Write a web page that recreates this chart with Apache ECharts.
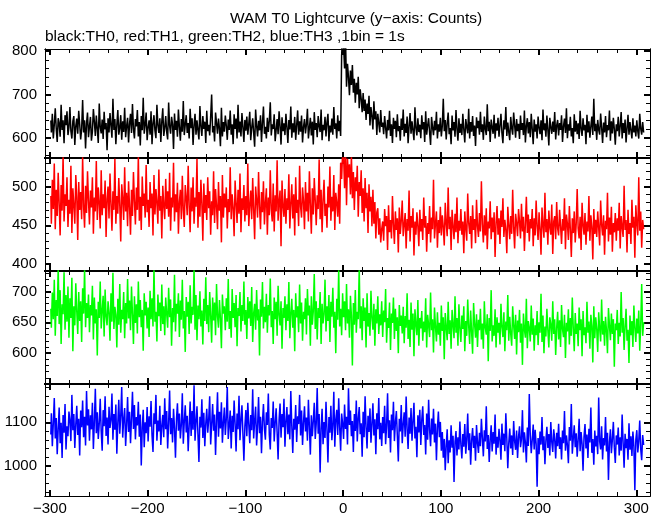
<!DOCTYPE html>
<html><head><meta charset="utf-8">
<script src="https://cdn.jsdelivr.net/npm/echarts@6/dist/echarts.min.js"></script>
<style>html,body{margin:0;padding:0;background:#fff}#c{width:661px;height:515px}</style>
</head><body><div id="c"></div>
<script>
// time of first bin (s), 1 bin = 1 s
const binStart = -299;
const titleText = 'WAM T0 Lightcurve (y\u2212axis: Counts)';
const subText = 'black:TH0, red:TH1, green:TH2, blue:TH3 ,1bin = 1s';
const seriesNames = ['TH0','TH1','TH2','TH3'];
const colors = ['#000000','#ff0000','#00ff00','#0000ff'];

const th0 = [
640,612,655,598,630,668,621,590,645,633,602,676,618,640,587,652,629,661,606,624,
671,615,598,638,650,583,627,644,609,662,631,596,620,687,612,640,575,633,658,601,
626,648,593,614,666,637,604,651,620,588,679,625,610,642,597,660,619,634,571,645,
612,657,628,600,690,618,643,585,630,664,607,622,652,595,638,613,669,601,627,646,
589,632,655,611,678,620,598,643,626,664,603,636,582,650,617,692,609,630,658,594,
624,640,607,661,585,633,652,616,599,676,628,611,645,590,637,668,604,622,650,613,
596,681,627,609,648,631,574,656,618,639,602,665,625,593,643,614,685,606,630,652,
611,634,598,667,622,645,583,629,655,607,640,617,596,673,626,604,650,620,637,588,
662,615,630,605,648,700,612,627,591,658,634,609,644,621,580,669,603,636,614,651,
628,595,642,618,663,607,631,585,654,620,644,598,676,612,637,603,657,625,590,641,
616,649,607,632,660,594,623,645,611,579,665,628,603,639,617,652,590,634,672,609,
625,598,646,613,639,682,605,631,620,654,592,618,643,608,661,627,584,647,615,633,
606,655,624,588,641,619,672,600,633,612,648,595,629,663,607,638,614,651,589,625,
643,610,631,667,598,622,646,605,637,584,659,618,634,601,650,626,613,665,594,630,
617,648,603,636,655,592,628,612,644,607,671,620,633,598,652,615,639,604,790,840,
812,760,826,718,771,740,698,755,722,768,704,736,681,727,700,741,668,712,690,659,
703,662,688,641,679,655,697,628,671,650,619,684,642,661,606,655,633,612,664,625,
635,608,650,623,598,641,617,662,604,631,588,646,620,639,601,654,615,627,593,644,
618,665,603,632,611,649,587,626,657,609,638,616,594,670,622,605,645,613,630,599,
652,619,636,590,661,607,628,645,612,583,648,624,606,639,617,660,598,631,614,646,
603,627,690,615,641,596,633,658,608,622,585,651,617,636,602,664,620,593,645,611,
632,606,655,619,589,643,625,610,667,598,636,614,650,604,628,581,647,622,639,607,
660,613,631,595,649,620,606,677,615,637,590,642,624,609,653,598,633,616,646,602,
628,655,611,587,640,619,671,604,635,613,594,648,622,607,658,629,600,643,615,632,
597,651,618,634,606,663,589,627,645,610,636,601,655,620,585,642,614,631,598,649,
623,608,640,594,665,617,633,602,651,619,582,646,625,609,637,613,659,596,628,641,
605,634,618,652,590,627,644,611,668,599,631,616,648,603,622,587,654,614,639,608,
633,597,662,620,604,645,617,630,585,653,612,638,600,626,649,606,690,615,632,595,
641,618,607,656,624,588,635,612,650,601,629,617,663,593,638,610,646,620,584,631,
615,648,603,627,659,598,634,611,642,589,622,653,607,636,617,598,645,612,628,603,
640,615,598,655,621,607,636,612];

const th1 = [
488,452,509,471,530,445,496,462,518,478,437,502,469,541,455,490,475,512,448,483,
465,527,440,498,476,452,515,487,431,506,470,493,458,539,474,447,501,466,520,482,
451,495,473,512,439,486,468,533,457,499,480,446,521,463,490,472,508,435,484,500,
459,517,478,443,494,470,536,452,488,465,511,476,429,503,484,457,525,468,492,449,
507,474,438,496,462,519,481,451,499,470,540,456,487,444,513,475,491,460,528,467,
483,448,506,472,491,437,515,464,497,479,452,522,469,488,433,501,476,458,510,471,
494,461,518,443,486,473,531,455,490,467,505,439,480,496,458,514,470,448,502,485,
463,527,476,441,499,468,512,452,486,474,536,447,493,461,509,478,430,504,466,489,
457,512,472,494,438,481,463,520,453,497,475,445,506,469,488,428,515,460,491,473,
499,446,484,467,525,458,490,472,436,508,479,453,496,465,517,441,485,470,502,455,
488,463,530,449,476,495,458,511,470,432,500,482,460,519,474,445,493,467,507,451,
479,498,438,486,463,521,471,455,504,442,489,468,534,456,481,495,423,508,475,461,
497,452,485,470,516,446,478,503,459,490,437,512,466,483,449,527,474,460,499,481,
445,506,468,492,455,520,477,439,498,464,511,482,450,489,471,535,458,496,441,483,
509,462,478,447,500,473,526,456,487,468,515,444,492,479,461,503,452,531,510,545,
540,498,548,476,536,512,529,490,541,485,519,470,512,494,527,461,506,488,521,466,
498,455,511,472,492,440,503,468,487,449,496,452,480,433,467,472,438,459,428,445,
455,430,471,449,462,418,476,441,457,433,488,451,426,468,444,459,415,473,439,456,
482,436,451,466,420,458,443,495,429,462,447,472,411,455,438,467,449,423,470,442,
458,431,486,447,462,416,453,439,475,428,460,445,509,433,452,468,421,457,440,474,
437,463,448,424,479,452,436,499,445,461,418,470,449,432,465,441,486,427,456,443,
471,438,455,414,468,446,430,491,453,439,462,420,476,444,458,427,483,449,435,466,
442,507,451,428,463,437,472,419,455,446,481,432,460,441,467,409,453,475,438,459,
426,469,448,485,435,457,444,414,474,451,432,462,439,496,447,420,465,453,436,471,
455,433,478,442,461,417,452,487,440,464,429,458,446,471,423,459,437,482,449,431,
467,445,412,473,450,434,492,441,458,425,469,447,438,477,413,455,462,432,480,446,
437,470,449,426,458,443,485,419,464,452,431,475,445,409,459,440,468,428,452,497,
446,433,461,418,479,450,438,466,425,455,442,488,430,463,448,406,471,439,457,435,
468,447,424,482,451,437,463,412,456,445,492,429,460,438,474,416,453,441,466,430,
459,443,479,420,462,448,435,501,444,457,415,470,439,453,426,483,447,461,408,476,
452,437,512,443,468,421,457,445];

const th2 = [
672,641,698,655,719,628,686,660,740,647,702,615,679,663,731,638,694,651,708,625,
689,657,722,603,676,645,713,668,631,699,652,684,618,705,664,737,642,681,657,695,
634,678,661,709,622,690,648,671,596,683,657,716,640,669,693,627,703,659,645,684,
666,620,697,651,730,639,675,662,609,688,646,712,633,670,655,699,624,681,648,720,
656,685,637,708,663,615,692,649,679,632,716,658,686,642,670,604,697,661,683,640,
674,626,701,655,689,643,738,651,667,619,695,660,682,636,711,647,676,629,690,664,
641,706,658,687,612,673,650,727,635,680,664,697,626,685,654,719,640,668,602,691,
659,683,631,710,648,675,662,737,638,694,621,677,655,700,643,669,614,688,652,723,
647,678,634,699,661,617,690,653,682,629,712,660,641,686,656,608,695,664,676,637,
689,651,720,639,668,625,704,657,681,642,694,611,673,660,699,635,678,652,716,646,
670,623,691,656,684,644,707,618,665,680,638,702,653,671,596,687,659,715,640,675,
650,696,633,678,661,721,642,668,615,690,655,683,628,709,662,645,684,607,673,657,
692,637,679,652,715,624,664,688,641,670,603,697,658,676,634,711,648,682,620,667,
655,689,630,704,661,677,612,692,646,668,728,639,684,622,673,657,699,615,680,648,
663,719,635,676,652,694,618,683,659,706,641,667,600,688,654,735,643,672,629,697,
658,684,637,712,648,671,625,693,660,580,681,646,702,633,667,655,739,640,676,621,
689,652,674,609,697,643,665,628,701,657,638,680,612,671,648,692,631,663,645,684,
626,669,650,704,617,657,641,682,605,664,649,690,623,672,636,658,600,678,644,661,
632,675,616,660,641,697,623,654,610,682,638,664,595,671,647,629,686,612,657,640,
668,620,651,634,689,609,662,645,626,698,637,655,601,674,643,619,666,630,649,612,
677,636,658,590,665,642,621,683,631,653,607,670,645,624,692,633,657,612,679,640,
618,661,639,676,603,652,628,687,644,615,669,634,599,681,648,625,663,610,654,637,
672,622,648,607,684,641,630,663,587,657,636,702,619,645,628,671,609,658,633,649,
614,680,642,626,666,603,651,637,694,620,659,631,612,676,645,623,662,598,653,634,
670,617,648,581,664,639,625,688,608,652,641,619,677,630,656,604,645,629,668,613,
650,633,696,618,661,600,643,627,672,637,609,658,646,620,684,631,655,597,641,667,
622,653,610,678,639,626,662,592,649,635,671,614,657,628,690,640,603,665,631,648,
611,674,637,655,595,668,629,642,616,683,633,651,607,662,644,585,676,624,658,639,
602,666,640,619,687,630,652,612,659,636,600,673,645,621,664,631,655,578,648,637,
670,615,649,627,699,633,657,605,643,672,620,638,584,661,629,652,610,677,641,618,
656,632,669,604,645,712,628,650];

const th3 = [
1072,1121,1045,1098,1156,1063,1110,1027,1085,1134,1052,1099,1018,1117,1076,1142,1038,1091,1068,1125,
1104,1057,1163,1082,1119,1041,1095,1138,1071,1108,1024,1127,1089,1150,1066,1113,1047,1172,1093,1130,
1058,1116,1084,1145,1039,1101,1177,1075,1123,1062,1097,1154,1080,1035,1128,1091,1160,1069,1111,1049,
1136,1087,1105,1166,1060,1119,1083,1141,1028,1099,1152,1074,1115,1181,1065,1107,1133,1046,1094,1158,
1078,1124,1052,1109,1170,1085,1140,1061,1112,1093,1147,1067,1118,1001,1088,1129,1043,1100,1075,1135,
1056,1114,1090,1149,1070,1032,1121,1096,1163,1058,1104,1079,1138,1048,1092,1117,1066,1155,1084,1126,
1040,1098,1173,1073,1110,1054,1131,1087,1019,1106,1144,1081,1120,1063,1095,1167,1051,1102,1139,1077,
1115,1034,1092,1148,1069,1126,1083,1185,1058,1101,1137,1072,1009,1113,1088,1153,1064,1122,1045,1097,
1131,1076,1107,1160,1049,1094,1142,1081,1118,1025,1103,1169,1067,1124,1086,1146,1053,1099,1134,1071,
1109,1181,1062,1093,1127,1040,1115,1078,1150,1097,1033,1120,1084,1161,1059,1106,1139,1074,1012,1091,
1128,1068,1145,1096,1052,1117,1082,1176,1063,1104,1136,1047,1090,1158,1075,1113,1029,1101,1142,1085,
1060,1123,1094,1166,1071,1038,1110,1087,1148,1056,1099,1132,1077,1015,1106,1143,1065,1119,1089,1154,
1044,1102,1135,1073,1118,1061,1172,1092,1030,1108,1083,1140,1055,1114,1096,1163,1070,1127,1048,1100,
1137,1079,1111,1058,1152,1091,1026,1116,1068,1103,1145,1062,1097,1179,1074,1119,985,1086,1131,1050,
1101,1064,1147,1083,1008,1112,1076,1138,1059,1093,1170,1044,1106,1129,1071,1155,1088,1035,1120,1097,
1062,1141,1085,1113,1049,1178,1094,1127,1068,1103,1032,1119,1080,1150,1056,1109,1135,1073,1098,1021,
1124,1066,1160,1089,1040,1115,1078,1132,1053,1096,1144,1070,1107,1027,1121,1084,1156,1061,1099,1046,
1112,1075,1138,1050,1093,1167,1064,1105,1031,1118,1082,1147,1057,1100,1126,1069,1010,1108,1079,1140,
1052,1096,1123,1067,1159,1085,1039,1111,1074,1133,1058,1102,1145,1063,1090,1020,1116,1077,1129,1048,
1106,1137,1071,1094,1026,1120,1060,1152,1083,1045,1109,1072,1131,1054,1097,1013,1088,1125,1066,1101,
1035,1078,1019,1062,990,1047,1084,1006,1059,1031,1093,1042,1069,963,1055,1080,1024,1066,1038,1102,
1050,1017,1073,1044,1096,1028,1061,1120,1036,1075,1003,1058,1087,1041,1069,1012,1094,1053,1030,1076,
1045,1108,1064,1022,1082,1056,1137,1039,1071,1009,1060,1093,1033,1078,1051,1118,1026,1067,1042,1085,
1059,1014,1097,1048,1074,1034,1121,1063,995,1052,1086,1040,1070,1025,1103,1057,1037,1081,1018,1066,
1091,1043,1062,1128,1031,1077,1054,1008,1088,1046,1165,1071,1029,1060,1095,1038,1083,1050,952,1064,
1027,1079,1049,1112,1036,1068,1004,1058,1090,1041,1073,1024,1101,1055,1032,1084,1061,1017,1076,1045,
1097,1039,1066,1015,1081,1052,1126,1035,1070,1047,1006,1089,1058,1142,1028,1063,1093,1043,1075,1021,
1060,1108,1034,1078,1051,989,1067,1096,1040,1072,1018,1085,1054,1134,1030,1062,1003,1081,1045,1069,
1027,1157,1056,1038,1091,1015,1064,1047,1112,1033,1076,968,1055,1084,1029,1061,1101,1042,1007,1070,
1049,1088,1024,1066,1035,1118,1053,996,1074,1041,1062,1014,1098,1037,1068,1023,1079,1046,944,1060,
1082,1031,1057,1104,1039,1013,1071,1048];

const xRange = [-305, 314];
const xMajorTicks = [-300,-200,-100,0,100,200,300];
const xMinorTicks = [-300,-280,-260,-240,-220,-200,-180,-160,-140,-120,-100,-80,-60,-40,-20,0,20,40,60,80,100,120,140,160,180,200,220,240,260,280,300];

const yRanges = [[553,805],[391,537],[550,733],[931,1188]];
const yMajorTicks = [[600,700,800],[400,450,500],[600,650,700],[1000,1100]];
const yMinorTicks = [
  [560,580,600,620,640,660,680,700,720,740,760,780,800],
  [400,410,420,430,440,450,460,470,480,490,500,510,520,530],
  [550,560,570,580,590,600,610,620,630,640,650,660,670,680,690,700,710,720,730],
  [940,960,980,1000,1020,1040,1060,1080,1100,1120,1140,1160,1180]
];
const allSeries = [th0, th1, th2, th3];

// layout (pixels)
const panelTops = [49,158,271,384];
const panelBottoms = [158,271,384,496];
const plotLeft = 45, plotRight = 650, W = 661, H = 515;

const FONT = 'Liberation Sans';
const plain = v => String(v).replace('-', '\u2212');

const grids = [], xAxes = [], yAxes = [], series = [];
for (let g = 0; g < 4; g++) {
  grids.push({left: plotLeft, width: plotRight - plotLeft, top: panelTops[g], height: panelBottoms[g] - panelTops[g], containLabel: false, outerBoundsMode: 'none'});
  const isLast = g === 3;
  const mkX = (pos, vals, len, w, lab, lw) => ({
    type: 'value', gridIndex: g, position: pos, min: xRange[0], max: xRange[1],
    axisLine: {show: true, onZero: false, lineStyle: {color: '#000', width: lw}},
    axisTick: {show: true, inside: true, length: len, customValues: vals, lineStyle: {color: '#000', width: w}},
    axisLabel: lab ? {show: true, customValues: vals, formatter: plain, color: '#000', fontFamily: FONT, fontSize: 15, margin: 5} : {show: false},
    splitLine: {show: false}
  });
  const botW = isLast ? 1 : 2;
  const topW = g === 0 ? 1 : 2;
  xAxes.push(mkX('bottom', xMajorTicks, 6, 2, isLast, botW));
  xAxes.push(mkX('bottom', xMinorTicks, 4, 1, false, botW));
  xAxes.push(mkX('top', xMajorTicks, 6, 2, false, topW));
  xAxes.push(mkX('top', xMinorTicks, 4, 1, false, topW));
  const mkY = (pos, vals, len, w, lab) => ({
    type: 'value', gridIndex: g, position: pos, min: yRanges[g][0], max: yRanges[g][1],
    axisLine: {show: true, onZero: false, lineStyle: {color: '#000', width: 1}},
    axisTick: {show: true, inside: true, length: len, customValues: vals, lineStyle: {color: '#000', width: w}},
    axisLabel: lab ? {show: true, customValues: vals, formatter: plain, color: '#000', fontFamily: FONT, fontSize: 15, margin: 8} : {show: false},
    splitLine: {show: false}
  });
  yAxes.push(mkY('left', yMajorTicks[g], 6, 2, true));
  yAxes.push(mkY('left', yMinorTicks[g], 4, 1, false));
  yAxes.push(mkY('right', yMajorTicks[g], 6, 2, false));
  yAxes.push(mkY('right', yMinorTicks[g], 4, 1, false));
  series.push({
    name: seriesNames[g], type: 'line', xAxisIndex: g * 4, yAxisIndex: g * 4,
    data: allSeries[g].map((v, i) => [binStart + i, v]),
    step: 'middle', showSymbol: false, symbol: 'none', clip: true,
    lineStyle: {color: colors[g], width: 1.5}, itemStyle: {color: colors[g]}
  });
}

const chart = echarts.init(document.getElementById('c'), null, {renderer: 'canvas', width: W, height: H});
chart.setOption({
  animation: false,
  backgroundColor: '#fff',
  title: [
    {text: titleText, left: 351, top: 6, textAlign: 'center', textStyle: {fontFamily: FONT, fontSize: 15.5, fontWeight: 'normal', color: '#000'}},
    {text: subText, left: 40, top: 24, textStyle: {fontFamily: FONT, fontSize: 15.5, fontWeight: 'normal', color: '#000'}}
  ],
  grid: grids, xAxis: xAxes, yAxis: yAxes, series: series
});
</script></body></html>
